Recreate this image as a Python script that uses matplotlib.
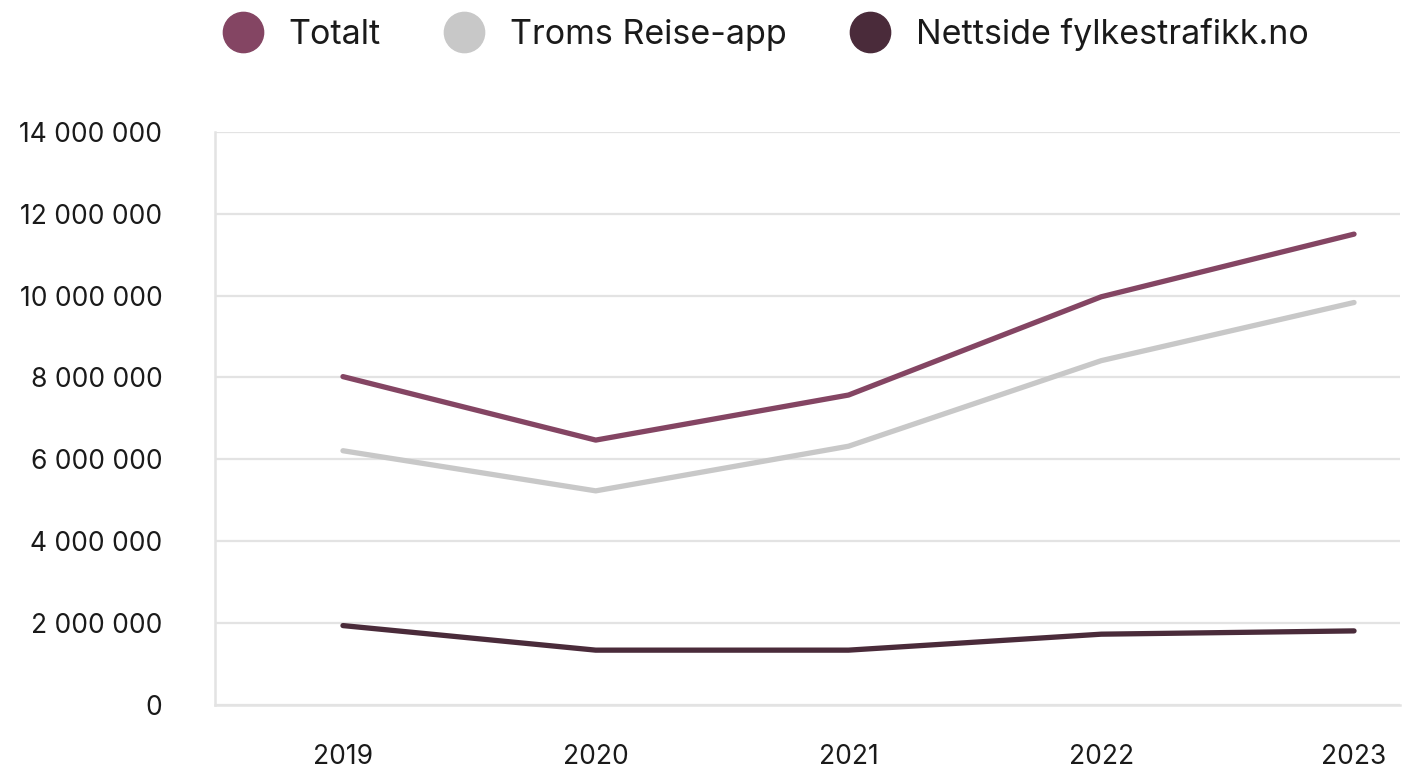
import matplotlib
matplotlib.use("Agg")
import matplotlib.pyplot as plt
from matplotlib.lines import Line2D
from matplotlib.ticker import FuncFormatter

plt.rcParams["font.family"] = ["Inter", "DejaVu Sans"]

years = ["2019", "2020", "2021", "2022", "2023"]
totalt = [8020000, 6470000, 7570000, 9970000, 11500000]
app = [6210000, 5230000, 6320000, 8410000, 9830000]
nettside = [1940000, 1340000, 1340000, 1730000, 1810000]

series_names = ["Totalt", "Troms Reise-app", "Nettside fylkestrafikk.no"]
colors = ["#844563", "#c8c8c8", "#4a2b3a"]

fig = plt.figure(figsize=(14.02, 7.75), dpi=100)
ax = fig.add_axes([0.1534, 0.0903, 0.8452, 0.7397])

x = range(len(years))
for vals, c in zip([app, totalt, nettside], [colors[1], colors[0], colors[2]]):
    ax.plot(x, vals, color=c, lw=3.8, solid_capstyle="round", solid_joinstyle="round", zorder=3)

ax.set_xlim(-0.506, 4.182)
ax.set_ylim(0, 14000000)
ax.set_yticks(range(0, 14000001, 2000000))
ax.yaxis.set_major_formatter(FuncFormatter(lambda v, p: f"{int(v):,}".replace(",", " ")))
ax.set_xticks(list(x))
ax.set_xticklabels(years)

ax.grid(axis="y", color="#e3e3e3", lw=1.6, zorder=0)
for s in ["top", "right"]:
    ax.spines[s].set_visible(False)
for s in ["left", "bottom"]:
    ax.spines[s].set_color("#e3e3e3")
    ax.spines[s].set_linewidth(1.8)
ax.tick_params(axis="both", length=0, labelsize=19, labelcolor="#1a1a1a")
ax.tick_params(axis="y", pad=38)
ax.tick_params(axis="x", pad=28)

handles = [Line2D([], [], ls="none", marker="o", markersize=29, color=c) for c in colors]
fig.legend(handles, series_names, loc="center", bbox_to_anchor=(0.546, 0.955), ncol=3,
           frameon=False, fontsize=24.5, handletextpad=0.75, columnspacing=1.85,
           handlelength=1.2, labelcolor="#1a1a1a")

fig.savefig("out.png", dpi=100, facecolor="white")
